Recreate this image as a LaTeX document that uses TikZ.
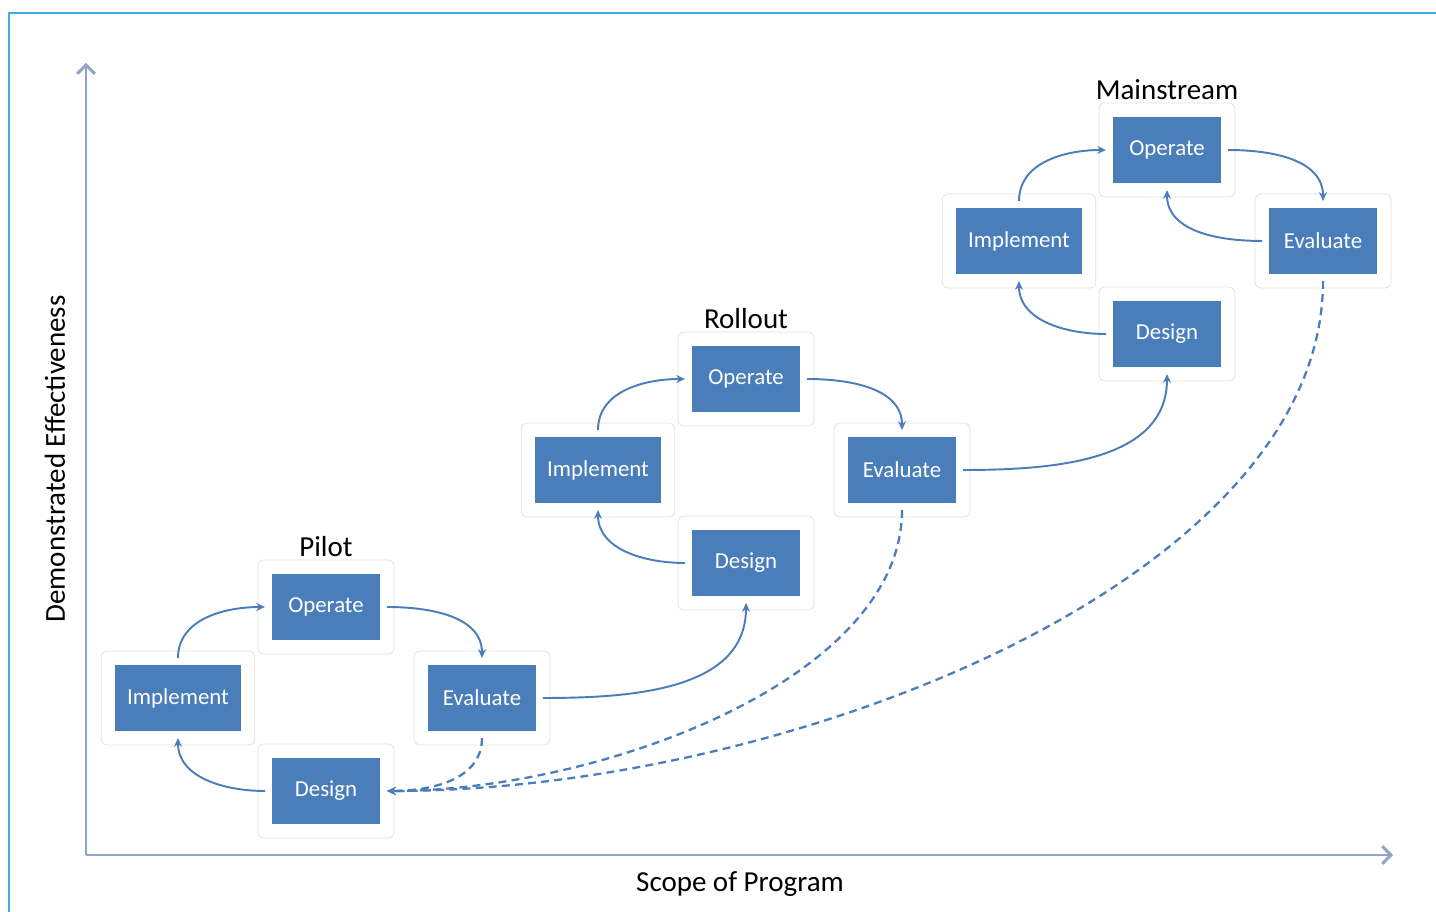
\documentclass[tikz,border=0pt]{standalone}
\usepackage{fontspec}
\setmainfont{Carlito}
\usetikzlibrary{arrows.meta,positioning,fit,backgrounds}

\definecolor{boxblue}{HTML}{4A7EBB}
\definecolor{linkblue}{HTML}{4A7DBA}
\definecolor{axisblue}{HTML}{8FA5C7}
\definecolor{frameblue}{HTML}{3BAEE3}

\tikzset{
  stagebox/.style={fill=boxblue, text=white, font=\fontsize{13}{15}\selectfont,
    minimum width=2.16cm, minimum height=1.32cm, inner xsep=0.24cm, outer sep=0.14cm},
  stageframe/.style={draw=black!12, fill=white, rounded corners=0.12cm, inner sep=0.14cm},
  phase/.style={font=\fontsize{16.5}{19}\selectfont, inner sep=0pt, outer sep=0pt},
  axislabel/.style={font=\fontsize{16.5}{19}\selectfont, inner sep=0pt},
  axis/.style={draw=axisblue, line width=1.7pt, -{Straight Barb[length=5pt, width=10pt]}},
  link/.style={draw=linkblue, line width=1.1pt, -{Stealth[length=5pt, width=4.5pt]}},
  feedback/.style={link, line width=1.3pt, dash pattern=on 4.5pt off 3pt}
}

\begin{document}
\begin{tikzpicture}[x=0.02cm, y=0.02cm]
\useasboundingbox (0,0) rectangle (1436,912);
\draw[frameblue, line width=1pt] (9,0) -- (9,899) -- (1436,899);

  % axes
  \coordinate (origin) at (86,57);
  \coordinate (ytop) at (86,849);
  \coordinate (xend) at (1393,57);
  \draw[axis] (origin) -- (ytop);
  \draw[axis] (origin) -- (xend);
  \node[axislabel, rotate=90] (ylabel) at (55,453) {Demonstrated Effectiveness};
  \node[axislabel] (xlabel) at (740,28) {Scope of Program};

  % the three stages
  \foreach \c/\x/\y/\stage in {p/326/305/Pilot, r/746/533/Rollout, m/1167/762/Mainstream} {
    \node[stagebox] (\c-op) at (\x,\y) {Operate};
    \node[stagebox] (\c-im) at (\x-148,\y-91) {Implement};
    \node[stagebox] (\c-ev) at (\x+156,\y-91) {Evaluate};
    \node[stagebox] (\c-de) at (\x,\y-184) {Design};
    \node[phase, above=6pt of \c-op] (\c-title) {\stage};
  }

  \begin{scope}[on background layer]
    \foreach \c in {p,r,m} {
      \foreach \k in {op,im,ev,de} {
        \node[stageframe, fit=(\c-\k)] {};
      }
    }
  \end{scope}

  % cycle inside each stage
  \foreach \c in {p,r,m} {
    \draw[link] (\c-im.north) to[out=90,in=180] (\c-op.west);
    \draw[link] (\c-op.east) to[out=0,in=90] (\c-ev.north);
    \draw[link] (\c-de.west) to[out=180,in=-90] (\c-im.south);
  }
  \draw[link] (m-ev.west) to[out=180,in=-90] (m-op.south);

  % on to the next stage
  \draw[link] (p-ev.east) to[out=0,in=-90] (r-de.south);
  \draw[link] (r-ev.east) to[out=0,in=-90] (m-de.south);

  % back to the pilot design
  \draw[feedback] (p-ev.south) to[out=-90,in=0] (p-de.east);
  \draw[feedback] (r-ev.south) .. controls +(0,-170) and +(212,0) .. (p-de.east);
  \draw[feedback] (m-ev.south) .. controls +(0,-300) and +(400,0) .. (p-de.east);
\end{tikzpicture}
\end{document}
